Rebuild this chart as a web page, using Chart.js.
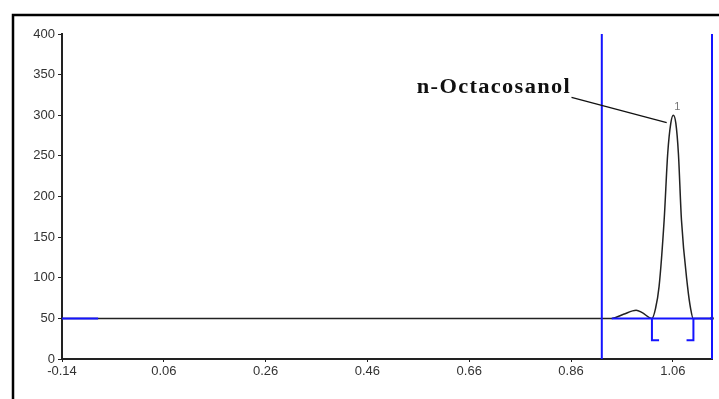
<!DOCTYPE html>
<html>
<head>
<meta charset="utf-8">
<script src="https://cdn.jsdelivr.net/npm/chart.js@4"></script>
<style>
  html, body { margin: 0; padding: 0; background: #fff; }
  #wrap { width: 719px; height: 399px; }
</style>
</head>
<body>
<div id="wrap"><canvas id="chrom"></canvas></div>
<script>
// x axis ticks (retention time, min)
const xTicks = [-0.14, 0.06, 0.26, 0.46, 0.66, 0.86, 1.06];
const xMin = -0.14;
const xMax = 1.137;
// y axis ticks (signal)
const yTicks = [0, 50, 100, 150, 200, 250, 300, 350, 400];

// detector trace
const traceX = [-0.14, 0.94, 0.963, 0.988, 1.000, 1.019, 1.026, 1.033, 1.043, 1.050, 1.056, 1.061, 1.066, 1.071, 1.077, 1.089, 1.095, 1.100, 1.137];
const traceY = [50, 50, 55, 60, 57, 50, 62, 89, 171, 253, 290, 300, 290, 253, 171, 89, 62, 50, 50];

// integration baseline + window markers (blue)
const baseLeftX = [-0.14, -0.069];
const baseRightX = [0.94, 1.137];
const baseY = 50;
const windowX = [0.9205, 1.137];
const peakStartBracket = [[1.019, 50], [1.019, 23], [1.033, 23]];
const peakEndBracket = [[1.087, 23], [1.1005, 23], [1.1005, 50]];

// annotations
const peakName = 'n-Octacosanol';
const peakNumber = '1';
const leader = [[0.861, 322], [1.048, 291]];
const nameAnchor = [0.557, 327];
const numberAnchor = [1.069, 310];

const pts = (xs, ys) => xs.map((x, i) => ({ x: x, y: ys[i] }));
const pairs = arr => arr.map(p => ({ x: p[0], y: p[1] }));
const BLUE = '#1414ff';

const blueLine = (data) => ({
  data: data, borderColor: BLUE, borderWidth: 2, pointRadius: 0,
  showLine: true, tension: 0, order: 1, clip: false
});

// frame + text labels
const decor = {
  id: 'decor',
  beforeDraw(chart) {
    const c = chart.ctx;
    c.save();
    c.strokeStyle = '#000';
    c.lineWidth = 2.5;
    c.beginPath();
    c.moveTo(13, 400);
    c.lineTo(13, 15);
    c.lineTo(720, 15);
    c.stroke();
    c.restore();
  },
  afterDatasetsDraw(chart) {
    const c = chart.ctx;
    const xs = chart.scales.x, ys = chart.scales.y;
    c.save();
    c.fillStyle = '#111';
    c.font = 'bold 20px "Liberation Serif", "Times New Roman", serif';
    c.textBaseline = 'alphabetic';
    c.textAlign = 'left';
    const stretch = 1.12;
    const w = c.measureText(peakName).width * stretch;
    const gap = Math.max(0, (153 - w) / (peakName.length - 1) / stretch);
    c.letterSpacing = gap.toFixed(2) + 'px';
    c.translate(xs.getPixelForValue(nameAnchor[0]), ys.getPixelForValue(nameAnchor[1]));
    c.scale(stretch, 1);
    c.fillText(peakName, 0, 0);
    c.restore();

    c.save();
    c.fillStyle = '#777';
    c.font = '11px "Liberation Sans", Arial, sans-serif';
    c.textAlign = 'center';
    c.textBaseline = 'middle';
    c.fillText(peakNumber, xs.getPixelForValue(numberAnchor[0]), ys.getPixelForValue(numberAnchor[1]));
    c.restore();
  }
};

const lastIdx = traceX.length - 1;

new Chart(document.getElementById('chrom'), {
  type: 'scatter',
  data: {
    datasets: [
      blueLine(pts(baseLeftX, [baseY, baseY])),
      blueLine(pts(baseRightX, [baseY, baseY])),
      blueLine(pts([windowX[0], windowX[0]], [0, 400])),
      blueLine(pts([windowX[1], windowX[1]], [0, 400])),
      blueLine(pairs(peakStartBracket)),
      blueLine(pairs(peakEndBracket)),
      {
        data: pts(traceX, traceY),
        borderColor: '#222', borderWidth: 1.5,
        pointRadius: ctx => ctx.dataIndex === lastIdx ? 1.8 : 0,
        pointBackgroundColor: '#222', pointBorderWidth: 0,
        showLine: true, cubicInterpolationMode: 'monotone', order: 2, clip: false
      },
      {
        data: pairs(leader),
        borderColor: '#111', borderWidth: 1.3, pointRadius: 0,
        showLine: true, order: 0
      }
    ]
  },
  options: {
    responsive: true,
    maintainAspectRatio: false,
    animation: false,
    layout: { padding: { left: 0, top: 34, right: 7, bottom: 0 } },
    plugins: { legend: { display: false }, tooltip: { enabled: false } },
    scales: {
      x: {
        type: 'linear', min: xMin, max: xMax,
        afterBuildTicks: s => { s.ticks = xTicks.map(v => ({ value: v })); },
        afterFit: s => { s.height = 40; },
        border: { color: '#222', width: 2 },
        grid: { drawOnChartArea: false, tickLength: 3, color: '#222' },
        ticks: {
          color: '#333', padding: 2, maxRotation: 0, autoSkip: false,
          font: { family: '"Liberation Sans", Arial, sans-serif', size: 13 },
          callback: v => v.toFixed(2)
        }
      },
      y: {
        min: 0, max: 400,
        afterBuildTicks: s => { s.ticks = yTicks.map(v => ({ value: v })); },
        afterFit: s => { s.width = 62; },
        border: { color: '#222', width: 2 },
        grid: { drawOnChartArea: false, tickLength: 4, color: '#222' },
        ticks: {
          color: '#333', padding: 3,
          font: { family: '"Liberation Sans", Arial, sans-serif', size: 13 }
        }
      }
    }
  },
  plugins: [decor]
});
</script>
</body>
</html>
